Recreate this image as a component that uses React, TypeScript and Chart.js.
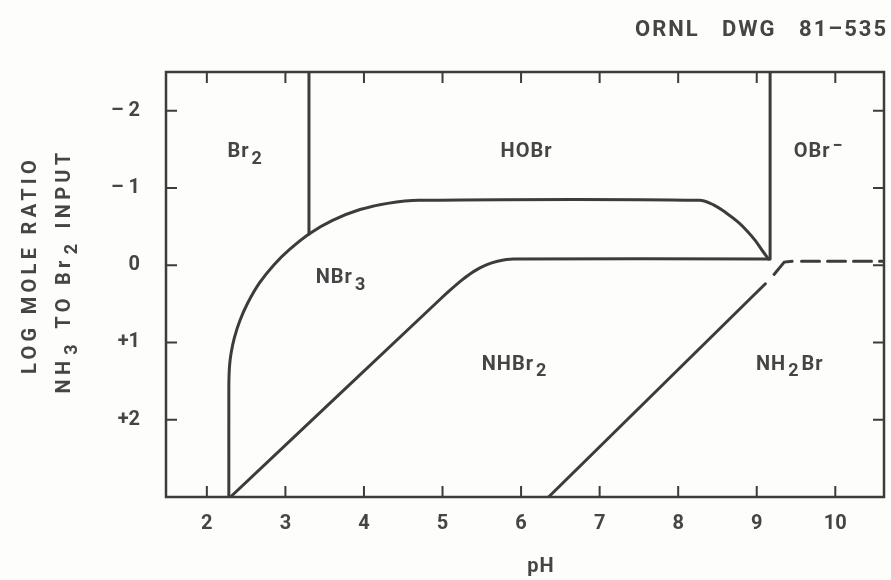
import React, { useEffect, useRef } from "react";
import { Chart, registerables } from "chart.js";

Chart.register(...registerables);

// ---- data ----
const xTicks = [2, 3, 4, 5, 6, 7, 8, 9, 10];
const yTicks = [-2, -1, 0, 1, 2];
const yTickLabels = ["\u2013 2", "\u2013 1", "0", "+1", "+2"];

// boundaries (pH, log mole ratio)
const br2HobrPh = [3.3, 3.3];
const br2HobrLog = [-2.5, -0.4];

const nbr3UpperPh = [2.28, 2.28, 2.282, 2.29, 2.31, 2.35, 2.42, 2.52, 2.67, 2.85, 3.05, 3.31, 3.6, 3.95, 4.3, 4.7, 8.27, 8.45, 8.62, 8.76, 8.88, 8.98, 9.07, 9.15];
const nbr3UpperLog = [3.0, 1.6, 1.45, 1.29, 1.13, 0.94, 0.72, 0.49, 0.23, 0.0, -0.2, -0.41, -0.58, -0.72, -0.8, -0.84, -0.84, -0.78, -0.67, -0.56, -0.44, -0.32, -0.19, -0.08];

const nhbr2UpperPh = [2.3, 4.95, 5.1, 5.25, 5.4, 5.55, 5.7, 5.9, 9.16];
const nhbr2UpperLog = [3.0, 0.46, 0.32, 0.19, 0.08, 0.0, -0.05, -0.08, -0.08];

const hobrObrPh = [9.17, 9.17];
const hobrObrLog = [-2.5, -0.08];

const nh2brUpperPh = [6.35, 9.11];
const nh2brUpperLog = [3.0, 0.24];

const nh2brDashPh = [9.22, 9.35, 9.45];
const nh2brDashLog = [0.12, -0.04, -0.05];

const dashedPh = [9.57, 10.62];
const dashedLog = [-0.05, -0.05];

// region labels ({n} = subscript, ^x = superscript)
const regionNames = ["Br{2}", "HOBr", "OBr^\u2212", "NBr{3}", "NHBr{2}", "NH{2}Br"];
const regionPh = [2.5, 6.07, 9.8, 3.72, 5.93, 9.42];
const regionLog = [-1.46, -1.46, -1.46, 0.17, 1.29, 1.29];

const INK = "#3c3c3c";
const TXT = "#454545";
const FONT = "Roboto, 'DejaVu Sans', sans-serif";
const FS = 20;

type Seg = { t: string; k: "n" | "sub" | "sup" };
function parseChem(s: string): Seg[] {
  const out: Seg[] = [];
  let i = 0;
  let cur = "";
  while (i < s.length) {
    const c = s[i];
    if (c === "{") {
      if (cur) out.push({ t: cur, k: "n" });
      cur = "";
      const j = s.indexOf("}", i);
      out.push({ t: s.slice(i + 1, j), k: "sub" });
      i = j + 1;
      continue;
    }
    if (c === "^") {
      if (cur) out.push({ t: cur, k: "n" });
      cur = "";
      out.push({ t: s[i + 1], k: "sup" });
      i += 2;
      continue;
    }
    cur += c;
    i++;
  }
  if (cur) out.push({ t: cur, k: "n" });
  return out;
}

function drawChem(ctx: CanvasRenderingContext2D, s: string, x: number, y: number, size: number, spacing: number) {
  const segs = parseChem(s);
  const fontN = `bold ${size}px ${FONT}`;
  const fontS = `bold ${Math.round(size * 0.9)}px ${FONT}`;
  (ctx as any).letterSpacing = `${spacing}px`;
  let total = 0;
  const widths: number[] = [];
  for (const sg of segs) {
    ctx.font = sg.k === "n" ? fontN : fontS;
    const w = ctx.measureText(sg.t).width + (sg.k === "n" ? 0 : 4);
    widths.push(w);
    total += w;
  }
  let cx = x - total / 2;
  ctx.textBaseline = "middle";
  ctx.textAlign = "left";
  segs.forEach((sg, i) => {
    ctx.font = sg.k === "n" ? fontN : fontS;
    const dy = sg.k === "sub" ? size * 0.35 : sg.k === "sup" ? -size * 0.28 : 0;
    ctx.fillText(sg.t, cx + (sg.k === "n" ? 0 : 2), y + dy);
    cx += widths[i];
  });
  (ctx as any).letterSpacing = "0px";
}

const decorPlugin = {
  id: "decor",
  afterDatasetsDraw(chart: any) {
    const { ctx, chartArea: a, scales } = chart;
    const xs = scales.x;
    const ys = scales.y;
    ctx.save();
    ctx.strokeStyle = INK;
    ctx.fillStyle = TXT;
    // box
    ctx.lineWidth = 2.5;
    ctx.strokeRect(a.left, a.top, a.right - a.left, a.bottom - a.top);
    // inward ticks
    ctx.lineWidth = 2;
    const tl = 11;
    ctx.beginPath();
    for (const v of xTicks) {
      const px = xs.getPixelForValue(v);
      ctx.moveTo(px, a.bottom);
      ctx.lineTo(px, a.bottom - tl);
      ctx.moveTo(px, a.top);
      ctx.lineTo(px, a.top + tl);
    }
    for (const v of yTicks) {
      const py = ys.getPixelForValue(v);
      ctx.moveTo(a.left, py);
      ctx.lineTo(a.left + tl, py);
      ctx.moveTo(a.right, py);
      ctx.lineTo(a.right - tl, py);
    }
    ctx.stroke();
    // region labels
    regionNames.forEach((n, i) => {
      drawChem(ctx, n, xs.getPixelForValue(regionPh[i]), ys.getPixelForValue(regionLog[i]), FS, 1);
    });
    // header
    (ctx as any).letterSpacing = "2px";
    ctx.font = `bold 22px ${FONT}`;
    ctx.textAlign = "right";
    ctx.textBaseline = "middle";
    ctx.fillText("ORNL   DWG   81\u2013535", 888, 30);
    // x title
    (ctx as any).letterSpacing = "1px";
    ctx.textAlign = "center";
    ctx.font = `bold ${FS}px ${FONT}`;
    ctx.fillText("pH", (a.left + a.right) / 2 + 16, 567);
    // y titles
    ctx.translate(31, 265);
    ctx.rotate(-Math.PI / 2);
    (ctx as any).letterSpacing = "4.3px";
    ctx.textAlign = "center";
    ctx.fillText("LOG MOLE RATIO", 0, 0);
    ctx.restore();
    ctx.save();
    ctx.fillStyle = TXT;
    ctx.translate(69, 271);
    ctx.rotate(-Math.PI / 2);
    drawChem(ctx, "NH{3} TO Br{2} INPUT", 0, -4, FS, 4.3);
    ctx.restore();
  },
};

function mk(label: string, xsArr: number[], ysArr: number[], dash: number[] = [], tension = 0) {
  return {
    label,
    data: xsArr.map((x, i) => ({ x, y: ysArr[i] })),
    showLine: true,
    borderColor: INK,
    borderWidth: 3,
    borderDash: dash,
    borderCapStyle: "round",
    pointRadius: 0,
    tension,
    fill: false,
  };
}

export default function App() {
  const ref = useRef<HTMLCanvasElement>(null);
  useEffect(() => {
    const chart = new Chart(ref.current!, {
      type: "scatter",
      data: {
        datasets: [
          mk("Br2/HOBr", br2HobrPh, br2HobrLog),
          mk("NBr3 upper", nbr3UpperPh, nbr3UpperLog, [], 0.35),
          mk("NHBr2 upper", nhbr2UpperPh, nhbr2UpperLog, [], 0.3),
          mk("HOBr/OBr-", hobrObrPh, hobrObrLog),
          mk("NH2Br upper", nh2brUpperPh, nh2brUpperLog),
          mk("NH2Br dash", nh2brDashPh, nh2brDashLog),
          mk("dashed", dashedPh, dashedLog, [18, 8]),
        ] as any,
      },
      options: {
        animation: false,
        responsive: false,
        maintainAspectRatio: false,
        layout: { padding: { top: 72, right: 7, left: 0, bottom: 0 } },
        plugins: { legend: { display: false }, tooltip: { enabled: false } },
        scales: {
          x: {
            type: "linear",
            min: 1.48,
            max: 10.62,
            grid: { display: false },
            border: { display: false },
            afterFit: (s: any) => { s.height = 83; },
            afterBuildTicks: (s: any) => { s.ticks = xTicks.map((v) => ({ value: v })); },
            ticks: { color: TXT, padding: 7, font: { family: FONT, size: FS, weight: "bold" }, callback: (v: any) => String(v) },
          },
          y: {
            type: "linear",
            min: -2.5,
            max: 3,
            reverse: true,
            grid: { display: false },
            border: { display: false },
            afterFit: (s: any) => { s.width = 166; },
            afterBuildTicks: (s: any) => { s.ticks = yTicks.map((v) => ({ value: v })); },
            ticks: {
              color: TXT,
              padding: 18,
              font: { family: FONT, size: FS, weight: "bold" },
              callback: (v: any) => yTickLabels[yTicks.indexOf(Number(v))] ?? "",
            },
          },
        },
      },
      plugins: [decorPlugin],
    } as any);
    return () => chart.destroy();
  }, []);
  return (
    <div style={{ position: "fixed", left: 0, top: 0, width: 891, height: 580, background: "#fdfdfb" }}>
      <canvas ref={ref} width={891} height={580} style={{ display: "block" }} />
    </div>
  );
}
